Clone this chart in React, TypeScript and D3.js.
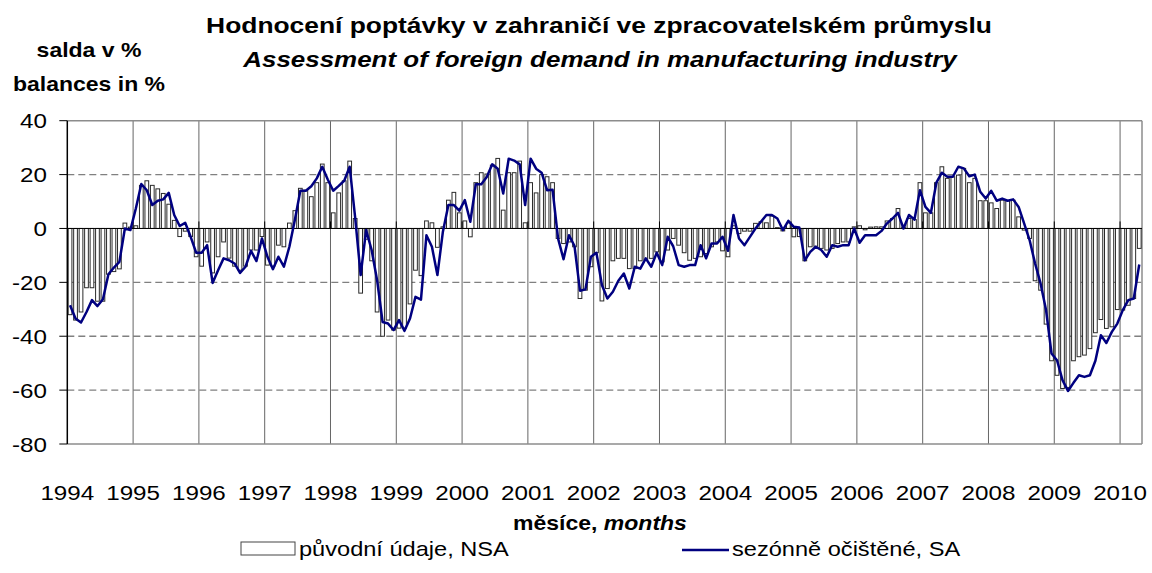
import React from 'react';
import * as d3 from 'd3';

// months from Jan 1994 to Apr 2010
const years = [1994, 1995, 1996, 1997, 1998, 1999, 2000, 2001, 2002, 2003, 2004, 2005, 2006, 2007, 2008, 2009, 2010];
const yTicks = [40, 20, 0, -20, -40, -60, -80];

// original data, NSA (bars)
const nsa = [
  -32, -34, -31, -22, -22, -27, -27, -17, -16, -15, 2, 0.5, // 1994
  1, 16, 17.7, 16, 14.7, 13, 9, 3, -3, -1, -3, -10.5, // 1995
  -14, -5, -16.5, -10.5, -5, -11, -14, -15.5, -14, -8, -8, -3, // 1996
  -13.6, -14, -6.2, -6.8, 2, 6.6, 14.9, 14.2, 11.8, 17, 23.9, 17, // 1997
  5.8, 13.2, 17.7, 25, 3.7, -24, -4, -12, -31, -40, -34, -37.7, // 1998
  -37, -37, -28, -15.5, -17.5, 2.8, 2.1, -7, 0.6, 10.5, 13.4, 5.8, // 1999
  2.8, -3.1, 17, 20.7, 20.2, 23.5, 26, 6.8, 20.7, 20.7, 25, 2.1, // 2000
  17, 13.2, 20, 19.2, 17, -3.7, -5.6, -5, -6.8, -26, -22.9, -14.2, // 2001
  -9, -26.9, -22.3, -12, -11.1, -11.1, -14.9, -14.9, -12, -11.5, -11.1, -8.7, // 2002
  -12.4, -8, -3.7, -6.2, -9, -11.8, -11.1, -10.5, -9.3, -6.8, -5, -8.3, // 2003
  -10.5, 1, -1.9, -1, -1, 1.9, 2.5, 2.1, 4.6, 0.3, -0.9, 2.1, // 2004
  -3.1, -3, -12, -6.8, -6.6, -7.4, -8, -7.4, -5.6, -5, -5, 0.6, // 2005
  1, -0.5, 0.5, 0.6, 0.6, 2.8, 3.7, 7.4, 0.5, 3.7, 3.3, 17, // 2006
  5.8, 5.8, 17, 22.9, 18.6, 19.2, 19.8, 22.3, 17, 18.6, 10.3, 10.3, // 2007
  9.5, 7.4, 10.5, 10.3, 10.5, 4.3, -0.6, -3.7, -19.4, -22.9, -35.5, -49.1, // 2008
  -54.5, -59.4, -59, -49.1, -47.6, -47, -44.6, -38.7, -33.8, -37.1, -36.5, -30.1, // 2009
  -30.3, -28.5, -26, -7.4, // 2010
];

// seasonally adjusted, SA (line)
const sa = [
  -28.5, -33.4, -34.9, -31, -26.6, -28.8, -26.3, -17, -14.5, -12.4, 0, -0.6, // 1994
  7.4, 16.5, 14.2, 8.7, 10.3, 10.8, 13.2, 5, 0.9, 2.1, -3.1, -9, // 1995
  -9, -6.2, -20.2, -15.5, -11.1, -11.8, -13, -16.5, -14.2, -8.3, -12.1, -3.7, // 1996
  -10.5, -15.1, -10.5, -14.2, -6.8, 3.1, 14, 14, 15.7, 18.6, 22.9, 18.2, // 1997
  14, 15.8, 17.7, 22.9, 4, -17.3, -0.6, -8, -19.2, -34.7, -35.3, -37.7, // 1998
  -34, -38, -33.4, -25.4, -26.4, -2.5, -6.8, -17.3, -1.2, 8.7, 8.7, 6.6, // 1999
  10.5, 2.5, 16.4, 16.4, 19.1, 23.8, 22.2, 13, 25.9, 25.2, 23.8, 8.7, // 2000
  25.9, 22.2, 20.7, 14.2, 14.4, -3.7, -11.4, -2.5, -6.5, -23.1, -22.6, -10.5, // 2001
  -9, -21, -26, -23.5, -19.4, -16.7, -22.3, -14.2, -14.9, -11.1, -14.2, -9, // 2002
  -13.6, -3.1, -6.6, -13.6, -14.2, -13.6, -13.6, -6.2, -11.1, -5.6, -5.6, -3.1, // 2003
  -8.3, 5, -3.7, -6.2, -3.1, 0, 2.5, 5, 5, 3.7, -0.6, 2.8, // 2004
  0.6, 0.4, -11.8, -8.7, -6.8, -8, -10.5, -6.2, -6.8, -6.2, -6.2, 0, // 2005
  -5.3, -2.5, -2.5, -2.5, -0.9, 1.9, 3.7, 5.8, 0, 5, 3.3, 14.2, // 2006
  8, 5.8, 17, 20.7, 19.2, 19.2, 22.9, 22.3, 19.4, 20, 13.6, 11.1, // 2007
  14, 10.3, 11.1, 10.3, 10.8, 8, 1.9, -4.3, -13, -20.4, -30.3, -46.4, // 2008
  -48.9, -56.3, -60.3, -57.3, -54.5, -55.1, -54.5, -49.1, -39.6, -42.5, -38.4, -35.3, // 2009
  -30.3, -26.6, -26, -13.4, // 2010
];

const font = '"Liberation Sans", Arial, sans-serif';
const STRETCH = 1.18; // text in the original is a bit wide

// text stretched horizontally like the source picture
const T = ({ x, y, anchor = 'start', size, bold = false, italic = false, sx = STRETCH, children }: any) => (
  <text transform={`translate(${x},${y}) scale(${sx},1)`} textAnchor={anchor}
    fontSize={size} fontWeight={bold ? 'bold' : 'normal'} fontStyle={italic ? 'italic' : 'normal'}>
    {children}
  </text>
);

export default function App() {
  const width = 1152;
  const height = 573;
  const left = 67.3, right = 1142, top = 120.7, bottom = 444;

  const idx = d3.range(nsa.length);
  const x = d3.scaleBand<number>().domain(idx).range([left, right]).padding(0);
  const bw = x.bandwidth();
  const y = d3.scaleLinear().domain([-80, 40]).range([bottom, top]);
  const barW = bw * 0.68;

  const line = d3.line<number>()
    .x((_, i) => (x(i) as number) + bw / 2)
    .y(d => y(d));

  const yearX = (k: number) => (x(k * 12) as number);

  return (
    <svg width={width} height={height} style={{ position: 'absolute', left: 0, top: 0, background: '#fff' }} fontFamily={font}>
      <rect x={0} y={0} width={width} height={height} fill="#fff" />

      {/* titles */}
      <T x={599} y={33} anchor="middle" size={22} bold sx={1.2}>Hodnocení poptávky v zahraničí ve zpracovatelském průmyslu</T>
      <T x={600} y={67} anchor="middle" size={22} bold italic>Assessment of foreign demand in manufacturing industry</T>
      <T x={89} y={57} anchor="middle" size={19.5} bold>salda v %</T>
      <T x={89} y={91} anchor="middle" size={19.5} bold>balances in %</T>

      {/* horizontal gridlines */}
      {yTicks.filter(t => t !== 0 && t !== 40 && t !== -80).map(t => (
        <line key={'g' + t} x1={left} x2={right} y1={y(t)} y2={y(t)} stroke="#808080" strokeWidth={1.3} strokeDasharray="7,4" />
      ))}
      {/* year gridlines */}
      {years.slice(1).map((yr, k) => (
        <line key={'v' + yr} x1={yearX(k + 1)} x2={yearX(k + 1)} y1={top} y2={bottom} stroke="#666" strokeWidth={1} />
      ))}
      {/* frame */}
      <line x1={left} x2={right} y1={top} y2={top} stroke="#8c8c8c" strokeWidth={1.5} />
      <line x1={right} x2={right} y1={top} y2={bottom} stroke="#8c8c8c" strokeWidth={1.5} />
      <line x1={left} x2={right} y1={bottom} y2={bottom} stroke="#8c8c8c" strokeWidth={1.5} />

      {/* bars */}
      {nsa.map((v, i) => (
        <rect key={'b' + i}
          x={(x(i) as number) + (bw - barW) / 2}
          y={Math.min(y(v), y(0))}
          width={barW}
          height={Math.abs(y(v) - y(0))}
          fill="#fff" stroke="#2b2b2b" strokeWidth={1} />
      ))}

      {/* zero line and year ticks */}
      <line x1={left} x2={right} y1={y(0)} y2={y(0)} stroke="#000" strokeWidth={1} />
      {years.slice(1).map((yr, k) => (
        <line key={'t' + yr} x1={yearX(k + 1)} x2={yearX(k + 1)} y1={y(0) - 7} y2={y(0)} stroke="#000" strokeWidth={1} />
      ))}

      {/* SA line */}
      <path d={line(sa) || ''} fill="none" stroke="#000080" strokeWidth={2.5} strokeLinejoin="round" />

      {/* y axis */}
      <line x1={left} x2={left} y1={top} y2={bottom} stroke="#000" strokeWidth={1.5} />
      {yTicks.map(t => (
        <g key={'y' + t}>
          <line x1={left - 8} x2={left} y1={y(t)} y2={y(t)} stroke="#000" strokeWidth={1} />
          <T x={47} y={y(t) + 7.5} anchor="end" size={20.5}>{t}</T>
        </g>
      ))}

      {/* x labels */}
      {years.map((yr, k) => (
        <T key={'x' + yr} x={yearX(k)} y={500} anchor="middle" size={20.5}>{yr}</T>
      ))}

      <T x={600} y={530} anchor="middle" size={19.5} bold>měsíce, <tspan fontStyle="italic">months</tspan></T>

      {/* legend */}
      <rect x={241} y={542} width={54} height={13} fill="#fff" stroke="#444" strokeWidth={1} />
      <T x={299} y={556} size={20}>původní údaje, NSA</T>
      <line x1={682} x2={729} y1={550} y2={550} stroke="#000080" strokeWidth={2.5} />
      <T x={732} y={556} size={20}>sezónně očištěné, SA</T>
    </svg>
  );
}
